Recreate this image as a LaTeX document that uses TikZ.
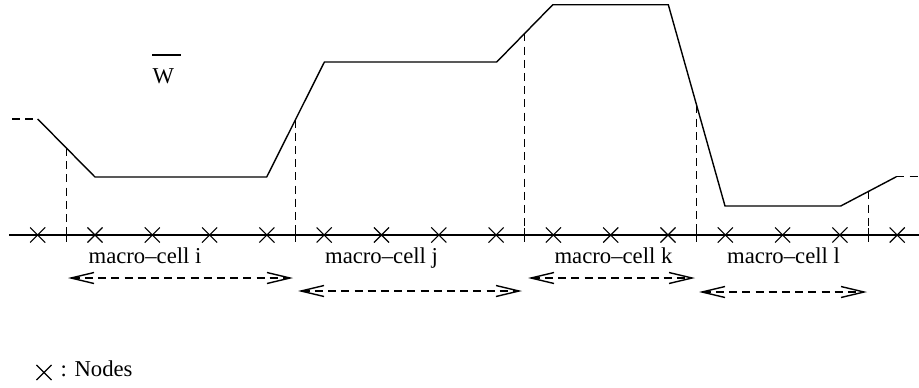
\documentclass[tikz,border=0pt]{standalone}
\usepackage{fontspec}
\setmainfont{Liberation Serif}
\usetikzlibrary{arrows.meta,shapes.misc,calc}

\begin{document}
\begin{tikzpicture}[x=0.5pt,y=-0.5pt,line width=0.7pt,
  every node/.style={font=\fontsize{11.35}{13.6}\selectfont,inner sep=0pt},
  nodemark/.style={cross out,draw,minimum size=7pt,line width=0.55pt},
  dashline/.style={dash pattern=on 4pt off 2.6pt},
  cellarrow/.style={dashline,{Straight Barb[length=11.5pt,width=5.5pt]}-{Straight Barb[length=11.5pt,width=5.5pt]}}]
\useasboundingbox (0,0) rectangle (919,387);
% the profile
\coordinate (c0) at (12,119);     \coordinate (c1) at (37.7,119);
\coordinate (c2) at (95,177);     \coordinate (c3) at (266.7,177);
\coordinate (c4) at (324.4,62);   \coordinate (c5) at (496.7,62);
\coordinate (c6) at (552.8,4.7);  \coordinate (c7) at (668.3,4.7);
\coordinate (c8) at (725,206);    \coordinate (c9) at (840.7,206);
\coordinate (c10) at (896.4,176.7); \coordinate (c11) at (919,176.7);
\draw[dashline] (c0) -- (c1);
\draw (c1) -- (c2) -- (c3) -- (c4) -- (c5) -- (c6) -- (c7) -- (c8) -- (c9) -- (c10);
\draw[dashline] (c10) -- (c11);
\node[anchor=base west] (wlabel) at (152,83.3) {W};
\draw (152,55) -- (181,55);
% axis and nodes
\draw (9,235) -- (919,235);
\foreach \i in {0,...,15}
  \node[nodemark] (n\i) at (37.7+57.3*\i,235) {};
\foreach \a/\b in {c1/c2,c3/c4,c5/c6,c7/c8,c9/c10} {
  \coordinate (m) at ($(\a)!.5!(\b)$);
  \draw[dashline] (m) -- (m |- n0);
  \draw (m |- n0) ++(0,-7) -- ++(0,14);
}
% macro-cells
\node[anchor=base] (celli) at (145,263) {macro--cell i};
\node[anchor=base] (cellj) at (381.5,263) {macro--cell j};
\node[anchor=base] (cellk) at (613.5,263) {macro--cell k};
\node[anchor=base] (celll) at (783.5,263) {macro--cell l};
\foreach \x/\y/\z in {68/293/278, 298/522/291, 528/695/278, 699/867/292}
  \draw[cellarrow] (\x,\z) -- (\y,\z);
% legend
\node[nodemark] (legmark) at (44,372.5) {};
\node[anchor=base west] (legtext) at (60,376.7) {: Nodes};
\end{tikzpicture}
\end{document}
